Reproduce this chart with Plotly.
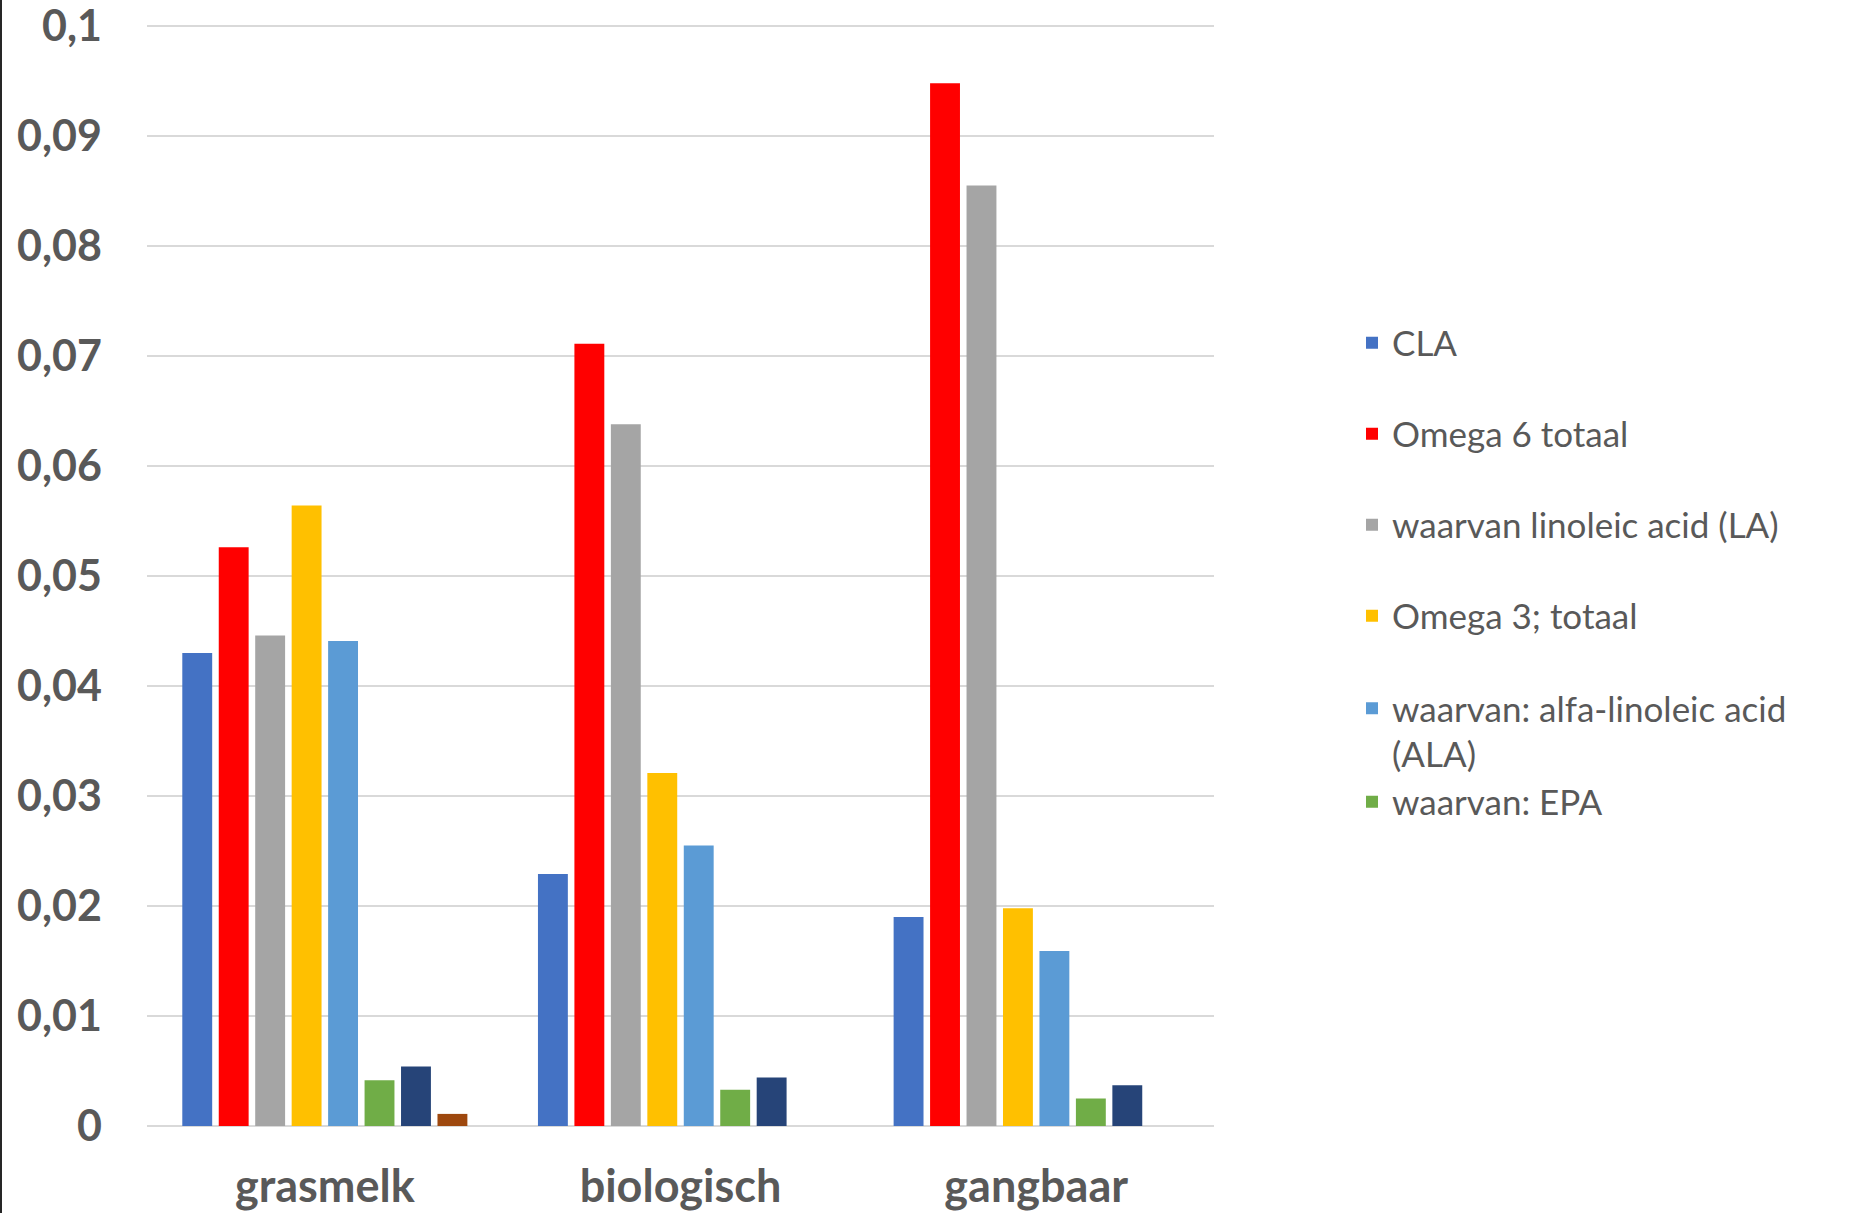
import plotly.graph_objects as go

categories = ["grasmelk", "biologisch", "gangbaar"]

series_names = [
    "CLA",
    "Omega 6 totaal",
    "waarvan linoleic acid (LA)",
    "Omega 3; totaal",
    "waarvan: alfa-linoleic acid<br>(ALA)",
    "waarvan: EPA",
    "waarvan: DPA",
    "waarvan: DHA",
]

cla = [0.0430, 0.0229, 0.0190]
omega6 = [0.0526, 0.0711, 0.0948]
la = [0.0446, 0.0638, 0.0855]
omega3 = [0.0564, 0.0321, 0.0198]
ala = [0.0441, 0.0255, 0.0159]
epa = [0.00415, 0.0033, 0.0025]
dpa = [0.0054, 0.0044, 0.0037]
dha = [0.0011, None, None]

series_values = [cla, omega6, la, omega3, ala, epa, dpa, dha]
colors = ["#4472C4", "#FF0000", "#A5A5A5", "#FFC000", "#5B9BD5", "#70AD47", "#264478", "#9E480E"]

y_ticks = [0, 0.01, 0.02, 0.03, 0.04, 0.05, 0.06, 0.07, 0.08, 0.09, 0.1]
y_max = 0.10045

W, H = 1852, 1213
ML, MR, MT, MB = 147, 638, 21, 87
PW, PH = W - ML - MR, H - MT - MB


def py(y_px):
    """page pixel row -> paper y"""
    return (H - MB - y_px) / PH


# legend entry centres (page pixel rows) of the visible legend entries
legend_rows = [343, 434, 525, 616, 679, 802]
legend_x = (1352 - ML) / PW

fig = go.Figure()
legend_names = ["legend", "legend2", "legend3", "legend4", "legend5", "legend6"]
for i, (name, vals, col) in enumerate(zip(series_names, series_values, colors)):
    fig.add_trace(go.Bar(
        name=name,
        x=categories,
        y=vals,
        marker=dict(color=col, line=dict(width=0)),
        showlegend=i < 6,
        legend=legend_names[i] if i < 6 else "legend",
    ))

text_col = "#595959"
leg_font = dict(family="Lato", size=35, color=text_col)
layout_legends = {}
for i, ln in enumerate(legend_names):
    layout_legends[ln] = dict(
        x=legend_x, y=py(legend_rows[i]), xanchor="left",
        yanchor="top" if i == 4 else "middle",
        valign="top",
        font=leg_font, bgcolor="rgba(0,0,0,0)", borderwidth=0,
    )

fig.update_layout(
    width=W, height=H,
    margin=dict(l=ML, r=MR, t=MT, b=MB, autoexpand=False),
    paper_bgcolor="white", plot_bgcolor="white",
    barmode="group", bargap=0.18, bargroupgap=0.18,
    separators=",.",
    **layout_legends,
)

fig.update_yaxes(
    range=[0, y_max], tickvals=y_ticks, automargin=False,
    ticklabeloverflow="allow",
    showgrid=True, gridcolor="#D9D9D9", gridwidth=2,
    zeroline=True, zerolinecolor="#D9D9D9", zerolinewidth=2,
    showline=False, ticks="",
    tickfont=dict(family="Lato", size=43, color=text_col, weight="bold"),
    ticklabelstandoff=44,
)
fig.update_xaxes(
    showgrid=False, showline=False, ticks="", automargin=False,
    ticklabeloverflow="allow",
    tickfont=dict(family="Lato", size=45, color=text_col, weight="bold"),
    ticklabelstandoff=30,
)

# thin dark border at the left edge of the image
fig.add_shape(type="line", xref="paper", yref="paper",
              x0=-(ML - 1) / PW, x1=-(ML - 1) / PW,
              y0=-MB / PH, y1=1 + MT / PH,
              line=dict(color="#262626", width=2))

fig.write_html("out.html", config={"displayModeBar": False},
               post_script="document.body.style.margin='0';")
